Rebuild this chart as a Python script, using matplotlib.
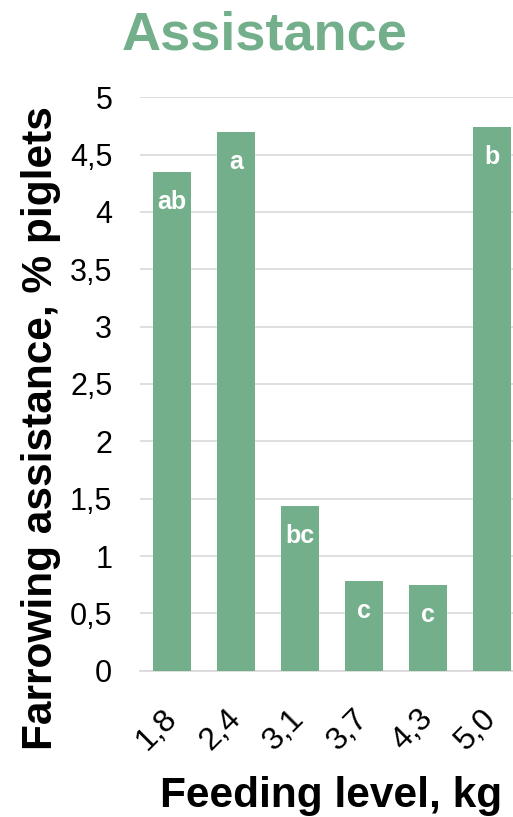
import matplotlib.pyplot as plt

plt.rcParams['font.family'] = ['Liberation Sans', 'DejaVu Sans']

# data
levels = ['1,8', '2,4', '3,1', '3,7', '4,3', '5,0']
assistance = [4.35, 4.70, 1.44, 0.78, 0.75, 4.74]
letters = ['ab', 'a', 'bc', 'c', 'c', 'b']
yticks = [0, 0.5, 1, 1.5, 2, 2.5, 3, 3.5, 4, 4.5, 5]
ylabels = ['0', '0,5', '1', '1,5', '2', '2,5', '3', '3,5', '4', '4,5', '5']

green = '#72AF8A'

fig = plt.figure(figsize=(5.13, 8.17), dpi=100)
ax = fig.add_axes([0.273, 0.179, 0.748, 0.702])

x = range(len(levels))
ax.bar(x, assistance, width=0.6, color=green, zorder=3)

# letters inside bars
for i, (v, t) in enumerate(zip(assistance, letters)):
    ax.annotate(t, (i, v), xytext=(0, -30), textcoords='offset pixels',
                ha='center', va='center', color='white',
                fontsize=18, fontweight='bold', zorder=4)

ax.set_xlim(-0.5, 5.5)
ax.set_ylim(0, 5)
ax.set_yticks(yticks)
ax.set_yticklabels(ylabels, fontsize=22)
ax.set_xticks(list(x))
ax.set_xticklabels(levels, fontsize=23, rotation=45, ha='right', va='center',
                   rotation_mode='anchor')
ax.tick_params(length=0)
ax.tick_params(axis='y', pad=20)
ax.tick_params(axis='x', pad=31)
ax.grid(axis='y', color='#d9d9d9', linewidth=1.2, zorder=0)
for s in ['top', 'right', 'left']:
    ax.spines[s].set_visible(False)
ax.spines['bottom'].set_color('#d9d9d9')
ax.spines['bottom'].set_linewidth(1.2)

fig.text(0.08, 0.476, 'Farrowing assistance, % piglets', rotation=90,
         ha='center', va='center', fontsize=30.5, fontweight='bold')
fig.text(0.645, 0.0126, 'Feeding level, kg', ha='center', va='baseline',
         fontsize=30.5, fontweight='bold')
fig.text(0.516, 0.94, 'Assistance', ha='center', va='baseline',
         fontsize=39, fontweight='bold', color=green)

plt.savefig('out.png', dpi=100)
